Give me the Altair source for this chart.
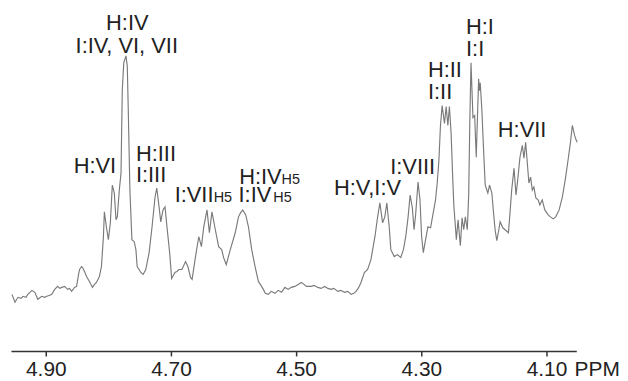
import altair as alt
import pandas as pd

# Chemical shift (ppm) and intensity (arbitrary units)
ppm = [4.9540, 4.9492, 4.9445, 4.9397, 4.9365, 4.9318, 4.9286, 4.9222, 4.9175, 4.9127,
       4.9064, 4.9016, 4.8984, 4.8937, 4.8905, 4.8857, 4.8810, 4.8778, 4.8746, 4.8699,
       4.8651, 4.8619, 4.8587, 4.8540, 4.8508, 4.8476, 4.8460, 4.8429, 4.8413, 4.8381,
       4.8349, 4.8302, 4.8254, 4.8222, 4.8191, 4.8143, 4.8111, 4.8095, 4.8079, 4.8064,
       4.8032, 4.8000, 4.7968, 4.7937, 4.7905, 4.7878, 4.7857, 4.7825, 4.7798, 4.7778,
       4.7754, 4.7719, 4.7698, 4.7683, 4.7656, 4.7624, 4.7587, 4.7560, 4.7540, 4.7481,
       4.7444, 4.7402, 4.7349, 4.7302, 4.7254, 4.7227, 4.7190, 4.7163, 4.7127, 4.7095,
       4.7064, 4.7021, 4.6989, 4.6937, 4.6905, 4.6873, 4.6825, 4.6767, 4.6730, 4.6687,
       4.6662, 4.6608, 4.6556, 4.6513, 4.6476, 4.6424, 4.6386, 4.6345, 4.6291, 4.6238,
       4.6190, 4.6159, 4.6116, 4.6052, 4.5973, 4.5921, 4.5889, 4.5852, 4.5805, 4.5762,
       4.5710, 4.5656, 4.5603, 4.5572, 4.5524, 4.5492, 4.5445, 4.5397, 4.5338, 4.5286,
       4.5233, 4.5179, 4.5127, 4.5079, 4.5021, 4.4968, 4.4916, 4.4873, 4.4837, 4.4757,
       4.4714, 4.4651, 4.4603, 4.4544, 4.4492, 4.4440, 4.4397, 4.4333, 4.4286, 4.4227,
       4.4175, 4.4122, 4.4079, 4.4043, 4.4000, 4.3964, 4.3910, 4.3857, 4.3805, 4.3741,
       4.3698, 4.3662, 4.3619, 4.3583, 4.3551, 4.3513, 4.3487, 4.3433, 4.3381, 4.3329,
       4.3286, 4.3249, 4.3211, 4.3179, 4.3143, 4.3116, 4.3091, 4.3052, 4.3021, 4.2995,
       4.2968, 4.2932, 4.2894, 4.2852, 4.2810, 4.2773, 4.2746, 4.2719, 4.2694, 4.2667,
       4.2630, 4.2603, 4.2576, 4.2551, 4.2524, 4.2500, 4.2481, 4.2440, 4.2413, 4.2376,
       4.2349, 4.2322, 4.2297, 4.2265, 4.2243, 4.2225, 4.2206, 4.2175, 4.2148, 4.2122,
       4.2100, 4.2084, 4.2072, 4.2059, 4.2032, 4.2005, 4.1979, 4.1937, 4.1910, 4.1873,
       4.1846, 4.1821, 4.1794, 4.1767, 4.1741, 4.1698, 4.1662, 4.1608, 4.1583, 4.1556,
       4.1519, 4.1487, 4.1460, 4.1424, 4.1386, 4.1360, 4.1333, 4.1306, 4.1281, 4.1254,
       4.1227, 4.1202, 4.1170, 4.1132, 4.1106, 4.1068, 4.1027, 4.0973, 4.0937, 4.0894,
       4.0852, 4.0798, 4.0746, 4.0694, 4.0656, 4.0619, 4.0587, 4.0551, 4.0524, 4.0510]

intensity = [57, 49, 54, 53, 55, 54, 57, 61, 59, 52,
             55, 54, 55, 56, 57, 62, 65, 63, 64, 65,
             62, 63, 60, 64, 65, 77, 82, 85, 84, 80,
             75, 70, 64, 67, 69, 75, 85, 100, 115, 140,
             125, 112, 129, 167, 159, 132, 135, 162, 179, 262,
             290, 297, 287, 245, 162, 112, 110, 102, 85, 79,
             77, 82, 99, 125, 155, 164, 145, 130, 142, 145,
             125, 99, 73, 79, 80, 82, 82, 90, 85, 74,
             72, 95, 115, 105, 125, 142, 119, 140, 122, 105,
             102, 94, 87, 102, 119, 135, 139, 142, 137, 125,
             102, 85, 70, 67, 62, 58, 57, 60, 58, 61,
             59, 64, 62, 64, 65, 67, 69, 67, 65, 65,
             66, 64, 63, 65, 63, 62, 63, 60, 61, 59,
             60, 57, 58, 60, 64, 69, 79, 82, 92, 115,
             135, 149, 129, 135, 149, 125, 102, 95, 97, 94,
             102, 115, 135, 157, 144, 122, 137, 170, 152, 115,
             99, 112, 125, 124, 139, 152, 169, 192, 227, 247,
             229, 246, 227, 246, 219, 177, 147, 112, 132, 106,
             134, 122, 135, 122, 157, 232, 290, 235, 237, 195,
             242, 274, 262, 270, 242, 202, 167, 159, 167, 159,
             139, 122, 111, 120, 130, 124, 122, 119, 139, 162,
             184, 157, 172, 195, 207, 194, 210, 189, 169, 175,
             162, 165, 154, 152, 147, 152, 142, 137, 135, 133,
             135, 142, 155, 175, 192, 209, 227, 217, 212, 210]

# Peak annotations: text, position (ppm, intensity of text baseline)
label_text = ["H:IV", "I:IV, VI, VII", "H:VI", "H:III", "I:III",
              "I:VII", "H:IV", "I:IV", "H:V,I:V", "I:VIII",
              "H:II", "I:II", "H:I", "I:I", "H:VII"]
label_ppm = [4.8037, 4.8524, 4.8555, 4.7560, 4.7560,
             4.6941, 4.5910, 4.5921, 4.4397, 4.3497,
             4.2894, 4.2894, 4.2286, 4.2286, 4.1778]
label_int = [322.7, 300.3, 178.7, 191.0, 170.3,
             149.7, 167.7, 149.7, 157.0, 178.0,
             276.0, 253.7, 318.7, 297.0, 215.3]

sub_text = ["H5", "H5", "H5"]
sub_ppm = [4.6317, 4.5234, 4.5365]
sub_int = [149.7, 167.7, 149.7]

tick_values = [4.90, 4.70, 4.50, 4.30, 4.10]
unit_text = ["PPM"]
unit_ppm = [4.0551]
unit_int = [-24.7]

spec = pd.DataFrame({"ppm": ppm, "intensity": intensity})
labels = pd.DataFrame({"t": label_text, "ppm": label_ppm, "intensity": label_int})
subs = pd.DataFrame({"t": sub_text, "ppm": sub_ppm, "intensity": sub_int})
unit = pd.DataFrame({"t": unit_text, "ppm": unit_ppm, "intensity": unit_int})

FONT = "Liberation Sans"
xscale = alt.Scale(domain=[4.9556, 4.0524], nice=False, zero=False)
yscale = alt.Scale(domain=[0, 342], nice=False, zero=False)

line = alt.Chart(spec).mark_line(color="#7a7a7a", strokeWidth=1.15, interpolate="linear").encode(
    x=alt.X("ppm:Q", scale=xscale,
            axis=alt.Axis(values=tick_values, format=".2f", title=None, grid=False,
                          domainColor="#333333", domainWidth=1.5,
                          tickColor="#333333", tickWidth=1.5, tickSize=5,
                          labelFont=FONT, labelFontSize=21, labelColor="#222222",
                          labelPadding=3, labelFlush=False)),
    y=alt.Y("intensity:Q", scale=yscale, axis=None),
    order=alt.Order("ppm:Q", sort="descending"),
)

text_main = alt.Chart(labels).mark_text(
    align="left", baseline="alphabetic", font=FONT, fontSize=22, color="#222222"
).encode(x=alt.X("ppm:Q", scale=xscale), y=alt.Y("intensity:Q", scale=yscale), text="t:N")

text_sub = alt.Chart(subs).mark_text(
    align="left", baseline="alphabetic", font=FONT, fontSize=14.5, color="#222222"
).encode(x=alt.X("ppm:Q", scale=xscale), y=alt.Y("intensity:Q", scale=yscale), text="t:N")

text_unit = alt.Chart(unit).mark_text(
    align="left", baseline="alphabetic", font=FONT, fontSize=21, color="#222222"
).encode(x=alt.X("ppm:Q", scale=xscale), y=alt.Y("intensity:Q", scale=yscale), text="t:N")

chart = alt.layer(line, text_main, text_sub, text_unit).properties(
    width=569, height=342,
    autosize=alt.AutoSizeParams(type="none"),
    padding={"left": 3, "top": 2, "right": 44, "bottom": 28},
    background="white",
).configure_view(stroke=None)

chart.save("out.html", embed_options={"renderer": "svg", "actions": False})
